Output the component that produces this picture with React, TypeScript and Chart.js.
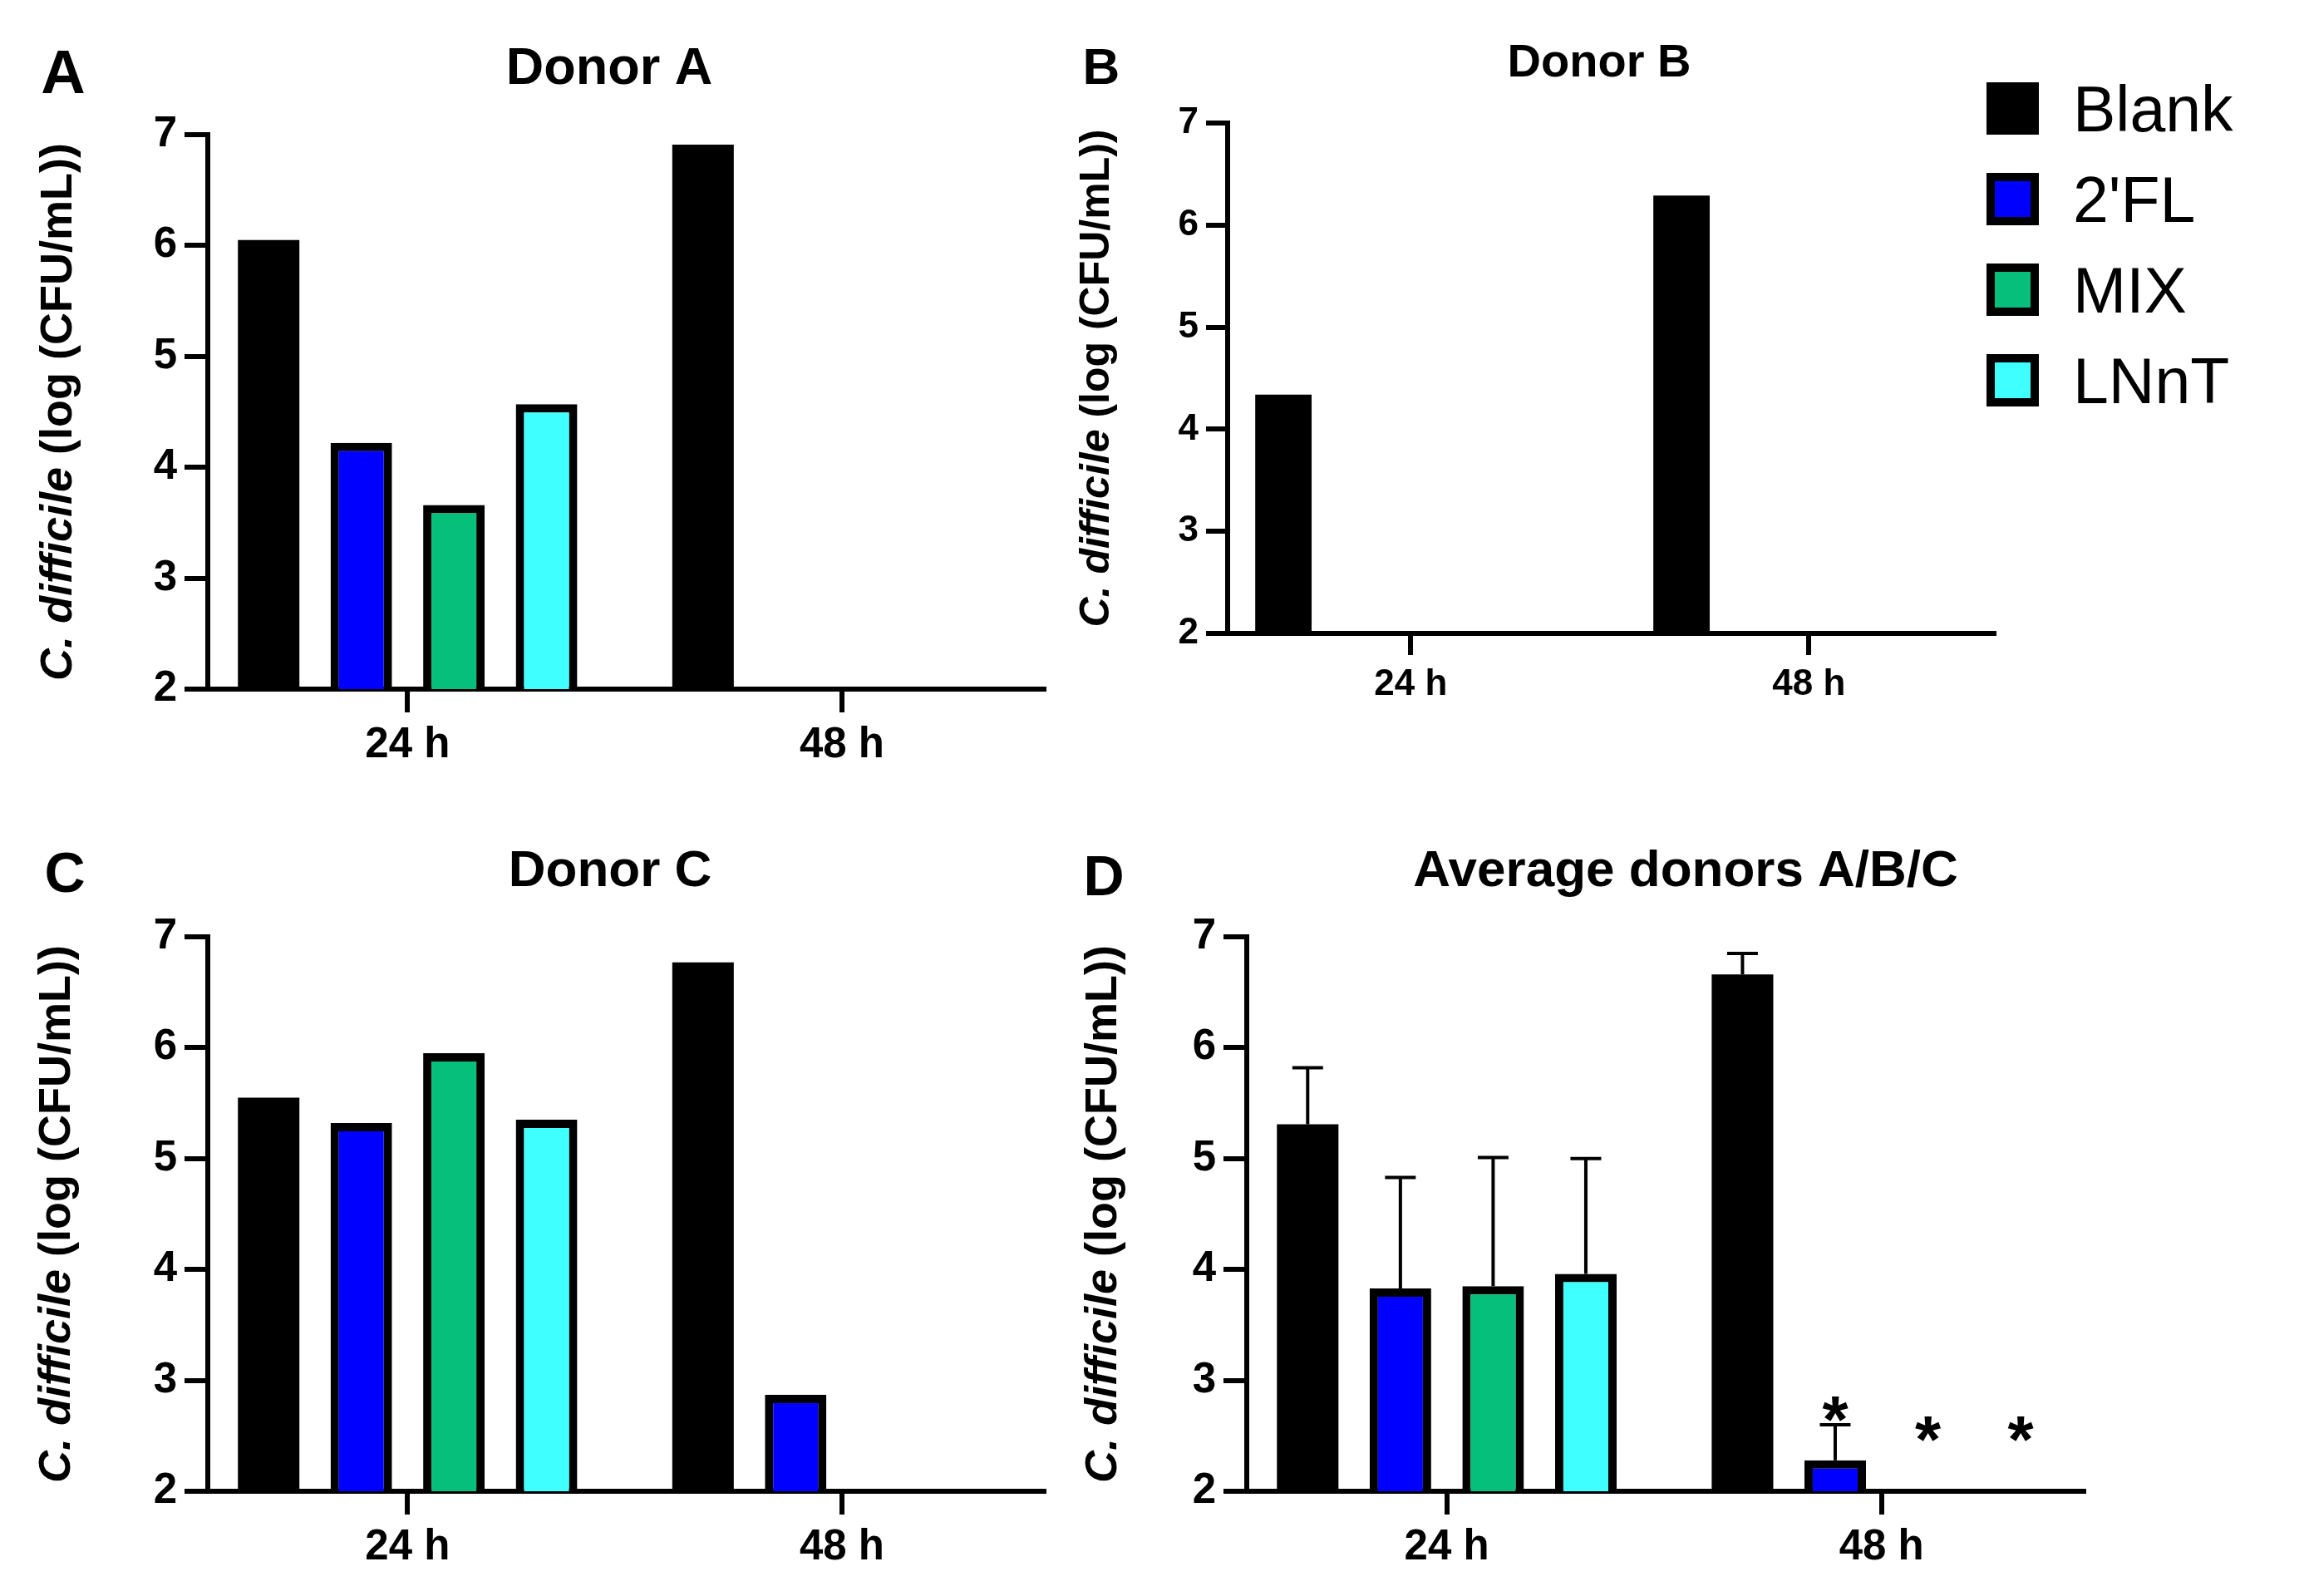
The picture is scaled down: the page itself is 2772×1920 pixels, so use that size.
import React, { useEffect, useRef } from 'react';
import { Chart, registerables } from 'chart.js';

Chart.register(...registerables);

// ---------- data ----------
const categories = ['24 h', '48 h'];
const seriesNames = ['Blank', "2'FL", 'MIX', 'LNnT'];
const seriesColors = ['#000000', '#0000FF', '#06BF7B', '#40FFFF'];
const yTicks = [2, 3, 4, 5, 6, 7];
const yTitleItalic = 'C. difficile ';
const yTitleRest = '(log (CFU/mL))';

// Donor A
const donorABlank = [6.05, 6.91];
const donorA2FL = [4.22, null];
const donorAMix = [3.66, null];
const donorALNnT = [4.57, null];

// Donor B
const donorBBlank = [4.34, 6.29];
const donorB2FL = [null, null];
const donorBMix = [null, null];
const donorBLNnT = [null, null];

// Donor C
const donorCBlank = [5.55, 6.77];
const donorC2FL = [5.32, 2.87];
const donorCMix = [5.95, null];
const donorCLNnT = [5.35, null];

// Average donors A/B/C (mean + SD)
const avgBlank = [5.31, 6.66];
const avg2FL = [3.83, 2.28];
const avgMix = [3.85, null];
const avgLNnT = [3.96, null];
const avgBlankErr = [0.51, 0.19];
const avg2FLErr = [1.0, 0.32];
const avgMixErr = [1.16, null];
const avgLNnTErr = [1.04, null];
// significance asterisks (value level of asterisk centre)
const avgBlankSig = [null, null];
const avg2FLSig = [null, 2.79];
const avgMixSig = [null, 2.61];
const avgLNnTSig = [null, 2.61];

// ---------- layout / style ----------
const FONT = '"Liberation Sans", Arial, Helvetica, sans-serif';

type Vals = (number | null)[];
type PanelCfg = {
  key: string;
  letter: string;
  title: string;
  box: [number, number, number, number];
  area: [number, number, number, number];
  tickSize: number;
  tickLen: number;
  titleSize: number;
  titleX: number;
  titleBase: number;
  letterSize: number;
  letterX: number;
  letterBase: number;
  yTitleSize: number;
  yTitleBase: number;
  values: Vals[];
  errors?: Vals[];
  sig?: Vals[];
  legend?: boolean;
};

const panels: PanelCfg[] = [
  {
    key: 'A', letter: 'A', title: 'Donor A',
    box: [0, 0, 1280, 960], area: [250, 162, 1256, 829],
    tickSize: 51, tickLen: 28,
    titleSize: 63, titleX: 733, titleBase: 101,
    letterSize: 74, letterX: 76, letterBase: 112,
    yTitleSize: 54, yTitleBase: 86,
    values: [donorABlank, donorA2FL, donorAMix, donorALNnT],
  },
  {
    key: 'B', letter: 'B', title: 'Donor B',
    box: [1280, 0, 1492, 960], area: [1477, 148, 2399, 762],
    tickSize: 44, tickLen: 26,
    titleSize: 56, titleX: 1924, titleBase: 92,
    letterSize: 62, letterX: 1325, letterBase: 101,
    yTitleSize: 50, yTitleBase: 1334,
    values: [donorBBlank, donorB2FL, donorBMix, donorBLNnT],
    legend: true,
  },
  {
    key: 'C', letter: 'C', title: 'Donor C',
    box: [0, 960, 1280, 960], area: [250, 1127, 1256, 1794],
    tickSize: 51, tickLen: 28,
    titleSize: 62, titleX: 734, titleBase: 1066,
    letterSize: 68, letterX: 78, letterBase: 1073,
    yTitleSize: 54, yTitleBase: 84,
    values: [donorCBlank, donorC2FL, donorCMix, donorCLNnT],
  },
  {
    key: 'D', letter: 'D', title: 'Average donors A/B/C',
    box: [1280, 960, 1492, 960], area: [1500, 1127, 2507, 1794],
    tickSize: 51, tickLen: 28,
    titleSize: 62, titleX: 2028, titleBase: 1066,
    letterSize: 68, letterX: 1328, letterBase: 1077,
    yTitleSize: 54, yTitleBase: 1343,
    values: [avgBlank, avg2FL, avgMix, avgLNnT],
    errors: [avgBlankErr, avg2FLErr, avgMixErr, avgLNnTErr],
    sig: [avgBlankSig, avg2FLSig, avgMixSig, avgLNnTSig],
  },
];

const legendSquareX = 2390;
const legendSquareSize = 63;
const legendTop = 99;
const legendStep = 109;
const legendTextX = 2494;
const legendFontSize = 77;

function decorPlugin(cfg: PanelCfg) {
  const [bx, by] = cfg.box;
  return {
    id: 'decor' + cfg.key,
    afterDatasetsDraw(chart: any) {
      const ctx = chart.ctx;
      const yScale = chart.scales.y;
      if (cfg.errors) {
        cfg.errors.forEach((errs, di) => {
          const meta = chart.getDatasetMeta(di);
          errs.forEach((e, i) => {
            const v = cfg.values[di][i];
            if (e == null || v == null) return;
            const bar = meta.data[i];
            const yTop = yScale.getPixelForValue(v + e);
            ctx.save();
            ctx.strokeStyle = '#000';
            ctx.lineWidth = 4;
            ctx.beginPath();
            ctx.moveTo(bar.x, bar.y);
            ctx.lineTo(bar.x, yTop);
            ctx.moveTo(bar.x - 18.5, yTop);
            ctx.lineTo(bar.x + 18.5, yTop);
            ctx.stroke();
            ctx.restore();
          });
        });
      }
      if (cfg.sig) {
        const fs = 80;
        cfg.sig.forEach((arr, di) => {
          const meta = chart.getDatasetMeta(di);
          arr.forEach((s, i) => {
            if (s == null) return;
            const bar = meta.data[i];
            const cy = yScale.getPixelForValue(s);
            ctx.save();
            ctx.fillStyle = '#000';
            ctx.font = `bold ${fs}px ${FONT}`;
            ctx.textAlign = 'center';
            ctx.textBaseline = 'alphabetic';
            ctx.fillText('*', bar.x, cy + 0.575 * fs);
            ctx.restore();
          });
        });
      }
    },
    afterDraw(chart: any) {
      const ctx = chart.ctx;
      ctx.save();
      ctx.fillStyle = '#000';
      ctx.textBaseline = 'alphabetic';
      // title
      ctx.textAlign = 'center';
      ctx.font = `bold ${cfg.titleSize}px ${FONT}`;
      ctx.fillText(cfg.title, cfg.titleX - bx, cfg.titleBase - by);
      // panel letter
      ctx.font = `bold ${cfg.letterSize}px ${FONT}`;
      ctx.fillText(cfg.letter, cfg.letterX - bx, cfg.letterBase - by);
      // y-axis title (mixed italic)
      const ca = chart.chartArea;
      ctx.save();
      ctx.translate(cfg.yTitleBase - bx, (ca.top + ca.bottom) / 2);
      ctx.rotate(-Math.PI / 2);
      const f1 = `italic bold ${cfg.yTitleSize}px ${FONT}`;
      const f2 = `bold ${cfg.yTitleSize}px ${FONT}`;
      ctx.font = f1;
      const w1 = ctx.measureText(yTitleItalic).width;
      ctx.font = f2;
      const w2 = ctx.measureText(yTitleRest).width;
      const x0 = -(w1 + w2) / 2;
      ctx.textAlign = 'left';
      ctx.font = f1;
      ctx.fillText(yTitleItalic, x0, 0);
      ctx.font = f2;
      ctx.fillText(yTitleRest, x0 + w1, 0);
      ctx.restore();
      // legend
      if (cfg.legend) {
        seriesNames.forEach((name, di) => {
          const sx = legendSquareX - bx;
          const sy = legendTop + di * legendStep - by;
          ctx.fillStyle = '#000';
          ctx.fillRect(sx, sy, legendSquareSize, legendSquareSize);
          if (di > 0) {
            ctx.fillStyle = seriesColors[di];
            ctx.fillRect(sx + 10, sy + 10, legendSquareSize - 20, legendSquareSize - 20);
          }
          ctx.fillStyle = '#000';
          ctx.textAlign = 'left';
          ctx.font = `${legendFontSize}px ${FONT}`;
          ctx.fillText(name, legendTextX - bx, sy + legendSquareSize / 2 + 0.358 * legendFontSize);
        });
      }
      ctx.restore();
    },
  };
}

function Panel({ cfg }: { cfg: PanelCfg }) {
  const ref = useRef<HTMLCanvasElement>(null);
  useEffect(() => {
    const [bx, by, bw, bh] = cfg.box;
    const [al, at, ar, ab] = cfg.area;
    const l = al - bx;
    const t = at - by;
    const r = ar - bx;
    const b = ab - by;
    const tickFont = { family: FONT, size: cfg.tickSize, weight: 'bold' as const };
    const gridOpts = {
      offset: false,
      drawOnChartArea: false,
      drawTicks: true,
      tickLength: cfg.tickLen,
      tickWidth: 6,
      lineWidth: 6,
      color: '#000',
    };
    const borderOpts = { display: true, width: 6, color: '#000' };
    const chart = new Chart(ref.current as HTMLCanvasElement, {
      type: 'bar',
      data: {
        labels: categories.map((_, i) => i),
        datasets: seriesNames.map((name, di) => ({
          label: name,
          data: cfg.values[di],
          backgroundColor: seriesColors[di],
          borderColor: '#000',
          borderWidth: di === 0 ? 0 : 10,
          borderSkipped: 'bottom',
          categoryPercentage: 0.853,
          barPercentage: 0.664,
        })),
      } as any,
      options: {
        responsive: false,
        animation: false,
        events: [],
        layout: { padding: { left: 0, top: t, right: bw - r, bottom: 0 } },
        plugins: {
          legend: { display: false },
          title: { display: false },
          tooltip: { enabled: false },
        },
        scales: {
          x: {
            type: 'linear',
            min: -0.46,
            max: 1.465,
            offset: false,
            afterBuildTicks: (s: any) => {
              s.ticks = categories.map((_, i) => ({ value: i }));
            },
            afterFit: (s: any) => {
              s.height = bh - b;
            },
            ticks: {
              callback: (v: any) => categories[v as number] ?? '',
              font: tickFont,
              color: '#000',
              padding: 9,
              maxRotation: 0,
              autoSkip: false,
            },
            grid: gridOpts,
            border: borderOpts,
          },
          y: {
            type: 'linear',
            min: 2,
            max: 7,
            afterBuildTicks: (s: any) => {
              s.ticks = yTicks.map((v) => ({ value: v }));
            },
            afterFit: (s: any) => {
              s.width = l;
            },
            ticks: { font: tickFont, color: '#000', padding: 9 },
            grid: gridOpts,
            border: borderOpts,
          },
        },
      } as any,
      plugins: [decorPlugin(cfg)],
    });
    return () => chart.destroy();
  }, [cfg]);
  const [bx, by, bw, bh] = cfg.box;
  return (
    <canvas
      ref={ref}
      width={bw}
      height={bh}
      style={{ position: 'absolute', left: bx, top: by, width: bw, height: bh }}
    />
  );
}

export default function App() {
  return (
    <div
      style={{
        position: 'absolute',
        left: 0,
        top: 0,
        width: 2772,
        height: 1920,
        background: '#fff',
        overflow: 'hidden',
      }}
    >
      {panels.map((p) => (
        <Panel key={p.key} cfg={p} />
      ))}
    </div>
  );
}
